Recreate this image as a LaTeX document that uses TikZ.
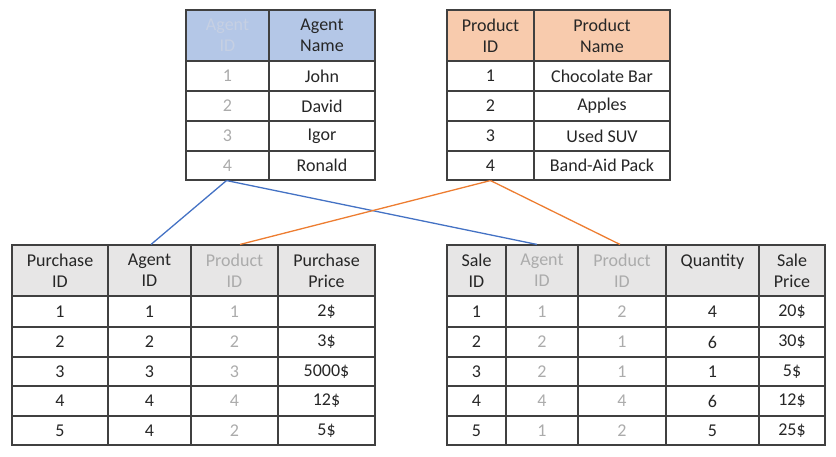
\documentclass[tikz,border=0pt]{standalone}
\usepackage{fontspec}
\setmainfont{Carlito}
\definecolor{hdrblue}{HTML}{B4C7E7}
\definecolor{hdrorange}{HTML}{F8CBAD}
\definecolor{hdrgray}{HTML}{E7E6E6}
\definecolor{lineblue}{HTML}{4472C4}
\definecolor{lineorange}{HTML}{ED7D31}
\definecolor{grid}{HTML}{404040}
\definecolor{fadetxt}{HTML}{ABABAB}
\definecolor{ghosttxt}{HTML}{C6D0E3}
\newcommand\cell[7]{%
  \node[cellbox,#6,minimum width={(#3-#2)*1pt},minimum height={(#5-#4)*1pt}]
    (#1) at ({(#2+#3)/2},{(#4+#5)/2}) {#7};}
\tikzset{
  cellbox/.style={draw=grid,line width=1.1pt,inner sep=0pt,align=center,
    font=\fontsize{18}{21}\selectfont,text=black!85},
  hb/.style={fill=hdrblue},
  ho/.style={fill=hdrorange},
  hg/.style={fill=hdrgray},
  fd/.style={text=fadetxt},
  gh/.style={text=ghosttxt},
  pl/.style={},
  link/.style={line width=1.3pt}
}
\begin{document}
\begin{tikzpicture}[x=1pt,y=-1pt]
\useasboundingbox (0,0) rectangle (836,456);
% ---------- Agent table (top left)
\cell{a-0-1}{186}{269}{10}{61}{hb,gh}{Agent\\ID}
\cell{a-0-2}{269}{375}{10}{61}{hb}{Agent\\Name}
\cell{a-1-1}{186}{269}{61}{91}{fd}{1}
\cell{a-1-2}{269}{375}{61}{91}{pl}{John}
\cell{a-2-1}{186}{269}{91}{121}{fd}{2}
\cell{a-2-2}{269}{375}{91}{121}{pl}{David}
\cell{a-3-1}{186}{269}{121}{151}{fd}{3}
\cell{a-3-2}{269}{375}{121}{151}{pl}{Igor}
\cell{a-4-1}{186}{269}{151}{180}{fd}{4}
\cell{a-4-2}{269}{375}{151}{180}{pl}{Ronald}
% ---------- Product table (top right)
\cell{p-0-1}{447}{534}{10}{61}{ho}{Product\\ID}
\cell{p-0-2}{534}{670}{10}{61}{ho}{Product\\Name}
\cell{p-1-1}{447}{534}{61}{91}{pl}{1}
\cell{p-1-2}{534}{670}{61}{91}{pl}{Chocolate Bar}
\cell{p-2-1}{447}{534}{91}{121}{pl}{2}
\cell{p-2-2}{534}{670}{91}{121}{pl}{Apples}
\cell{p-3-1}{447}{534}{121}{151}{pl}{3}
\cell{p-3-2}{534}{670}{121}{151}{pl}{Used SUV}
\cell{p-4-1}{447}{534}{151}{180}{pl}{4}
\cell{p-4-2}{534}{670}{151}{180}{pl}{Band-Aid Pack}
% ---------- Purchase table (bottom left)
\cell{b-0-1}{12}{108}{245}{296}{hg}{Purchase\\ID}
\cell{b-0-2}{108}{191}{245}{296}{hg}{Agent\\ID}
\cell{b-0-3}{191}{278}{245}{296}{hg,fd}{Product\\ID}
\cell{b-0-4}{278}{375}{245}{296}{hg}{Purchase\\Price}
\cell{b-1-1}{12}{108}{296}{327}{pl}{1}
\cell{b-1-2}{108}{191}{296}{327}{pl}{1}
\cell{b-1-3}{191}{278}{296}{327}{fd}{1}
\cell{b-1-4}{278}{375}{296}{327}{pl}{2\$}
\cell{b-2-1}{12}{108}{327}{357}{pl}{2}
\cell{b-2-2}{108}{191}{327}{357}{pl}{2}
\cell{b-2-3}{191}{278}{327}{357}{fd}{2}
\cell{b-2-4}{278}{375}{327}{357}{pl}{3\$}
\cell{b-3-1}{12}{108}{357}{386}{pl}{3}
\cell{b-3-2}{108}{191}{357}{386}{pl}{3}
\cell{b-3-3}{191}{278}{357}{386}{fd}{3}
\cell{b-3-4}{278}{375}{357}{386}{pl}{5000\$}
\cell{b-4-1}{12}{108}{386}{416}{pl}{4}
\cell{b-4-2}{108}{191}{386}{416}{pl}{4}
\cell{b-4-3}{191}{278}{386}{416}{fd}{4}
\cell{b-4-4}{278}{375}{386}{416}{pl}{12\$}
\cell{b-5-1}{12}{108}{416}{445}{pl}{5}
\cell{b-5-2}{108}{191}{416}{445}{pl}{4}
\cell{b-5-3}{191}{278}{416}{445}{fd}{2}
\cell{b-5-4}{278}{375}{416}{445}{pl}{5\$}
% ---------- Sale table (bottom right)
\cell{s-0-1}{447}{506}{245}{296}{hg}{Sale\\ID}
\cell{s-0-2}{506}{578}{245}{296}{hg,fd}{Agent\\ID}
\cell{s-0-3}{578}{666}{245}{296}{hg,fd}{Product\\ID}
\cell{s-0-4}{666}{759}{245}{296}{hg}{Quantity\\\phantom{ID}}
\cell{s-0-5}{759}{825}{245}{296}{hg}{Sale\\Price}
\cell{s-1-1}{447}{506}{296}{327}{pl}{1}
\cell{s-1-2}{506}{578}{296}{327}{fd}{1}
\cell{s-1-3}{578}{666}{296}{327}{fd}{2}
\cell{s-1-4}{666}{759}{296}{327}{pl}{4}
\cell{s-1-5}{759}{825}{296}{327}{pl}{20\$}
\cell{s-2-1}{447}{506}{327}{357}{pl}{2}
\cell{s-2-2}{506}{578}{327}{357}{fd}{2}
\cell{s-2-3}{578}{666}{327}{357}{fd}{1}
\cell{s-2-4}{666}{759}{327}{357}{pl}{6}
\cell{s-2-5}{759}{825}{327}{357}{pl}{30\$}
\cell{s-3-1}{447}{506}{357}{386}{pl}{3}
\cell{s-3-2}{506}{578}{357}{386}{fd}{2}
\cell{s-3-3}{578}{666}{357}{386}{fd}{1}
\cell{s-3-4}{666}{759}{357}{386}{pl}{1}
\cell{s-3-5}{759}{825}{357}{386}{pl}{5\$}
\cell{s-4-1}{447}{506}{386}{416}{pl}{4}
\cell{s-4-2}{506}{578}{386}{416}{fd}{4}
\cell{s-4-3}{578}{666}{386}{416}{fd}{4}
\cell{s-4-4}{666}{759}{386}{416}{pl}{6}
\cell{s-4-5}{759}{825}{386}{416}{pl}{12\$}
\cell{s-5-1}{447}{506}{416}{445}{pl}{5}
\cell{s-5-2}{506}{578}{416}{445}{fd}{1}
\cell{s-5-3}{578}{666}{416}{445}{fd}{2}
\cell{s-5-4}{666}{759}{416}{445}{pl}{5}
\cell{s-5-5}{759}{825}{416}{445}{pl}{25\$}
% ---------- connectors
\draw[link,lineblue] ([xshift=-1pt]a-4-1.south) -- ([xshift=1.5pt]b-0-2.north);
\draw[link,lineblue] ([xshift=-1pt]a-4-1.south) -- ([xshift=-5pt]s-0-2.north);
\draw[link,lineorange] (p-4-1.south) -- ([xshift=5.5pt]b-0-3.north);
\draw[link,lineorange] (p-4-1.south) -- ([xshift=-2pt]s-0-3.north);
\end{tikzpicture}
\end{document}
